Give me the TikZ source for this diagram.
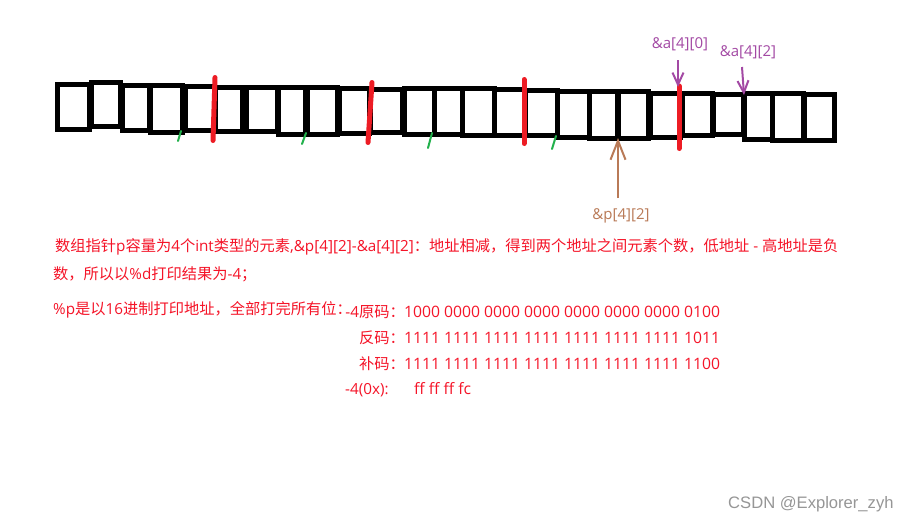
\documentclass[tikz,border=0pt]{standalone}
\usepackage{fontspec}
\setmainfont{Open Sans}
\newfontfamily\cjk{Noto Sans CJK SC}
\newfontfamily\wmfont{Liberation Sans}
\usetikzlibrary{arrows.meta}
\definecolor{pred}{RGB}{237,28,36}
\definecolor{pgreen}{RGB}{34,177,76}
\definecolor{ppurple}{RGB}{163,73,164}
\definecolor{pbrown}{RGB}{185,122,87}
\definecolor{txtred}{RGB}{245,20,40}
\definecolor{wmgray}{RGB}{150,150,150}
\tikzset{
  boxline/.style={draw=black,line width=5pt},
  redline/.style={draw=pred,line width=5pt,line cap=round},
  greentick/.style={draw=pgreen,line width=2pt,line cap=round},
  purplearrow/.style={draw=ppurple,line width=2pt,-{Straight Barb[length=12pt,width=11pt]}},
  brownarrow/.style={draw=pbrown,line width=2pt,-{Straight Barb[length=19pt,width=15pt]}},
  ptxt/.style={inner sep=0pt,text=txtred,font=\fontsize{15.25}{18}\selectfont},
  numtxt/.style={inner sep=0pt,text=txtred,font=\fontsize{15.7}{18}\selectfont},
  ptrlabel/.style={inner sep=0pt,font=\fontsize{15}{18}\selectfont},
}
\begin{document}
\begin{tikzpicture}[x=1pt,y=-1pt]
\useasboundingbox[fill=white] (0,0) rectangle (905,522);
% memory cells
\foreach \xa/\xb/\ya/\yb in {
  55/92/82/132, 89/123/80/129, 120/152/83/133, 148/185/83/135, 183/217/84/133,
  213/245/85/134, 244/280/85/134, 276/308/85/137, 305/340/85/137, 337/372/86/136,
  368/405/87/135, 402/437/86/137, 432/465/86/137, 460/497/86/138, 492/527/87/138,
  523/560/88/138, 555/592/89/140, 587/620/89/141, 616/651/89/141, 648/683/91/140,
  680/715/91/138, 711/746/92/137, 742/775/91/142, 770/806/91/143, 802/837/92/143}
  \draw[boxline] (\xa+2.5,\ya+2.5) rectangle (\xb-2.5,\yb-2.5);
% red separators
\draw[redline] (215,77.5) -- (213,140.5);
\draw[redline] (372,82.5) -- (368,142.5);
\draw[redline] (524,79.5) -- (524,143.5);
\draw[redline] (679,86) -- (679,148.5);
% green ticks
\draw[greentick] (181,131) -- (178,141);
\draw[greentick] (306,133) -- (302,144);
\draw[greentick] (432,133) -- (428,148);
\draw[greentick] (556,136) -- (552,149);
% pointer labels and arrows
\node[ptrlabel,text=ppurple,anchor=base] (la0) at (680,48) {\&a[4][0]};
\node[ptrlabel,text=ppurple,anchor=base] (la2) at (748,56) {\&a[4][2]};
\node[ptrlabel,text=pbrown,anchor=base] (lp2) at (621,219) {\&p[4][2]};
\coordinate (a0tail) at (678,60);
\coordinate (a0tip) at (678,87);
\coordinate (a2tail) at (742,67);
\coordinate (a2tip) at (744,95);
\coordinate (p2tail) at (618,198);
\coordinate (p2tip) at (618,138);
\draw[purplearrow] (a0tail) -- (a0tip);
\draw[purplearrow] (a2tail) -- (a2tip);
\draw[brownarrow] (p2tail) -- (p2tip);
% explanation text
\node[ptxt,anchor=base west] (t1) at (55,251) {{\cjk 数组指针}p{\cjk 容量为}4{\cjk 个}int{\cjk 类型的元素},\&p[4][2]-\&a[4][2]{\cjk ：地址相减，得到两个地址之间元素个数，低地址} - {\cjk 高地址是负}};
\node[ptxt,anchor=base west] (t2) at (53,279) {{\cjk 数，所以以}\%d{\cjk 打印结果为}-4{\cjk ；}};
\node[ptxt,anchor=base west] (t3) at (53,314) {\%p{\cjk 是以}16{\cjk 进制打印地址，全部打完所有位：}};
\node[ptxt,anchor=base east] (k1) at (405,317) {-4{\cjk 原码：}};
\node[numtxt,anchor=base west] (v1) at (404,317) {1000 0000 0000 0000 0000 0000 0000 0100};
\node[ptxt,anchor=base east] (k2) at (405,343) {{\cjk 反码：}};
\node[numtxt,anchor=base west] (v2) at (404,343) {1111 1111 1111 1111 1111 1111 1111 1011};
\node[ptxt,anchor=base east] (k3) at (405,369) {{\cjk 补码：}};
\node[numtxt,anchor=base west] (v3) at (404,369) {1111 1111 1111 1111 1111 1111 1111 1100};
\node[ptxt,anchor=base west] (k4) at (345,394) {-4(0x):};
\node[numtxt,anchor=base west] (v4) at (414,394) {ff ff ff fc};
% watermark
\node[inner sep=0pt,anchor=base west,text=wmgray,font=\wmfont\fontsize{16.6}{19}\selectfont] (wm) at (728,508) {CSDN @Explorer\_zyh};
\end{tikzpicture}
\end{document}
